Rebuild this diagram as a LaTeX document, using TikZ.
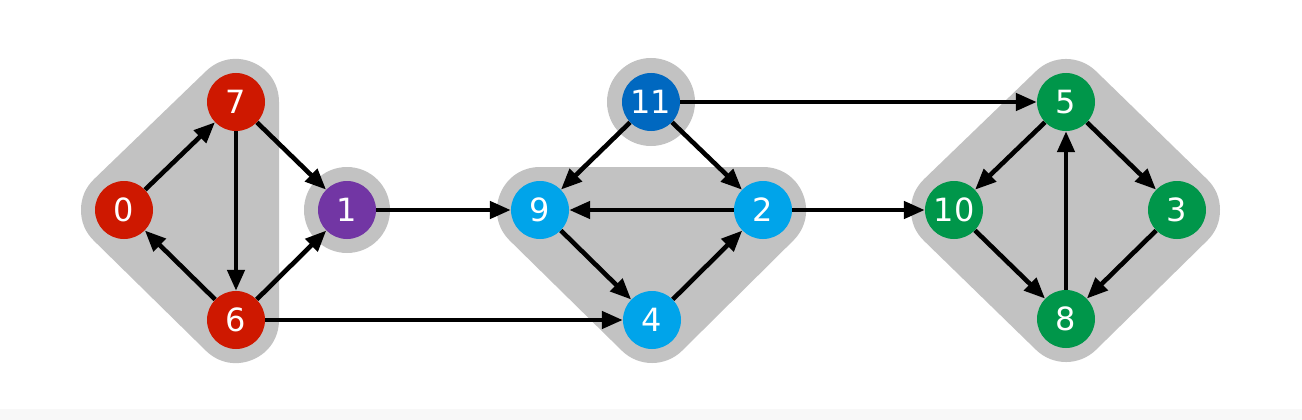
\documentclass[tikz,border=0pt]{standalone}
\usepackage{fontspec}
\setmainfont{DejaVu Sans}
\usetikzlibrary{arrows.meta}
\definecolor{cred}{RGB}{206,24,0}
\definecolor{cpurple}{RGB}{114,54,164}
\definecolor{cdblue}{RGB}{0,104,192}
\definecolor{clblue}{RGB}{0,164,234}
\definecolor{cgreen}{RGB}{0,150,74}
\definecolor{chalo}{RGB}{194,194,194}
\definecolor{cband}{RGB}{248,248,248}
\tikzset{
  vert/.style={circle, minimum size=58pt, inner sep=0pt, text=white,
    font=\fontsize{32}{32}\selectfont},
  halofill/.style={fill=chalo, draw=chalo, line width=86pt, line join=round},
  edge/.style={line width=4.6pt, -{Triangle[length=21pt,width=17pt]}, shorten >=0pt}
}
\begin{document}
\begin{tikzpicture}[x=1pt,y=-1pt]
\useasboundingbox (0,0) rectangle (1302,420);
\fill[white] (0,0) rectangle (1302,420);
\fill[cband] (0,409) rectangle (1302,420);
% halos
\path[halofill] (124,210) -- (236,102) -- (236,320) -- cycle;
\fill[chalo] (347,210) circle (43);
\fill[chalo] (651,102) circle (44);
\path[halofill] (540,210) -- (763,210) -- (652,320) -- cycle;
\path[halofill] (1066,102) -- (1177,210) -- (1066,319) -- (954,210) -- cycle;
% nodes
\node[vert, fill=cred] (n0) at (124,210) {0};
\node[vert, fill=cred] (n7) at (236,102) {7};
\node[vert, fill=cred] (n6) at (236,320) {6};
\node[vert, fill=cpurple] (n1) at (347,210) {1};
\node[vert, fill=cdblue] (n11) at (651,102) {11};
\node[vert, fill=clblue] (n9) at (540,210) {9};
\node[vert, fill=clblue] (n2) at (763,210) {2};
\node[vert, fill=clblue] (n4) at (652,320) {4};
\node[vert, fill=cgreen] (n5) at (1066,102) {5};
\node[vert, fill=cgreen] (n10) at (954,210) {10};
\node[vert, fill=cgreen] (n3) at (1177,210) {3};
\node[vert, fill=cgreen] (n8) at (1066,319) {8};
% edges
\draw[edge] (n0) -- (n7);
\draw[edge] (n7) -- (n6);
\draw[edge] (n6) -- (n0);
\draw[edge] (n7) -- (n1);
\draw[edge] (n6) -- (n1);
\draw[edge] (n1) -- (n9);
\draw[edge] (n6) -- (n4);
\draw[edge] (n11) -- (n9);
\draw[edge] (n11) -- (n2);
\draw[edge] (n2) -- (n9);
\draw[edge] (n9) -- (n4);
\draw[edge] (n4) -- (n2);
\draw[edge] (n11) -- (n5);
\draw[edge] (n2) -- (n10);
\draw[edge] (n5) -- (n10);
\draw[edge] (n5) -- (n3);
\draw[edge] (n3) -- (n8);
\draw[edge] (n10) -- (n8);
\draw[edge] (n8) -- (n5);
\end{tikzpicture}
\end{document}
